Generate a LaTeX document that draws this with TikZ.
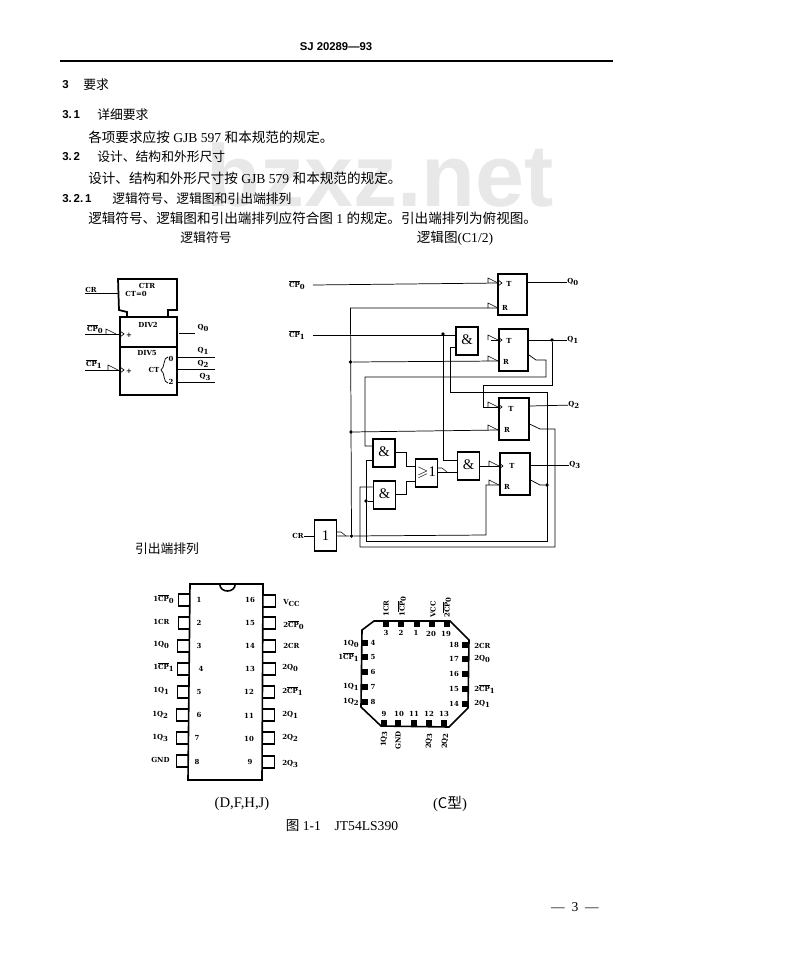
\documentclass[tikz,border=0pt]{standalone}
\usepackage{amssymb}
\usepackage{fontspec}
\setmainfont{Liberation Serif}
\newfontfamily\cjk{Noto Sans CJK SC}
\newfontfamily\secfont{Liberation Sans}
\newfontfamily\labfont{DejaVu Serif}
\newcommand{\idx}[1]{\raisebox{-.35ex}{#1}}
\newcommand{\ovl}[1]{$\overline{\mbox{#1}}$}
\tikzset{
	lab/.style={font=\labfont\bfseries\fontsize{5.2}{7}\selectfont, inner sep=0pt},
	bodytext/.style={font=\fontsize{9.6}{11}\selectfont, anchor=west, inner sep=0pt},
	paratext/.style={font=\fontsize{10.2}{12}\selectfont, anchor=west, inner sep=0pt},
	sectext/.style={font=\secfont\bfseries\fontsize{8.6}{10}\selectfont, anchor=west, inner sep=0pt},
	gatebox/.style={draw, line width=1.3pt, minimum width=16.5pt, minimum height=21pt, inner sep=0pt, font=\fontsize{11}{12}\selectfont},
	ffbox/.style={draw, line width=1.3pt, minimum width=22pt, minimum height=31pt},
	pinbox/.style={draw, line width=1.1pt, minimum width=10pt, minimum height=9pt, inner sep=0pt},
	pad/.style={fill=black, minimum width=4.5pt, minimum height=4.5pt, inner sep=0pt},
	wire/.style={line width=.55pt},
	dotnode/.style={circle, fill=black, minimum size=2.8pt, inner sep=0pt},
	polin/.pic={\draw[line width=.4pt] (-10,0) -- (-10,-5) -- (0,0);},
	polout/.pic={\draw[line width=.4pt] (0,-4) -- (4,-4) -- (9,0);},
	clk/.pic={\draw[line width=.5pt] (0,-3) -- (4,0) -- (0,3);}
}
\begin{document}
\begin{tikzpicture}[x=.75pt, y=-.75pt]
	\useasboundingbox (0,0) rectangle (800,965);
	% watermark
	\node[font=\secfont\bfseries\fontsize{66}{70}\selectfont, text=black!9, inner sep=0pt] (mark) at (380,175){bzxz.net};
	% page text
	\node[font=\secfont\bfseries\fontsize{8.5}{10}\selectfont, inner sep=0pt] (head) at (336,47){SJ 20289—93};
	\coordinate (ruleA) at (60,61);
	\coordinate (ruleB) at (613,61);
	\draw[line width=1pt] (ruleA) -- (ruleB);
	\node[sectext] (s3) at (62,85){3};
	\node[bodytext] (s3t) at (83,85){\cjk 要求};
	\node[sectext] (s31) at (62,115){3.\,1};
	\node[bodytext] (s31t) at (97,115){\cjk 详细要求};
	\node[paratext] (p1) at (88,137){{\cjk 各项要求应按} GJB 597 {\cjk 和本规范的规定。}};
	\node[sectext] (s32) at (62,157){3.\,2};
	\node[bodytext] (s32t) at (97,157){\cjk 设计、结构和外形尺寸};
	\node[paratext] (p2) at (88,178){{\cjk 设计、结构和外形尺寸按} GJB 579 {\cjk 和本规范的规定。}};
	\node[sectext] (s321) at (62,199){3.\,2.\,1};
	\node[bodytext] (s321t) at (112,199){\cjk 逻辑符号、逻辑图和引出端排列};
	\node[paratext] (p3) at (88,218){{\cjk 逻辑符号、逻辑图和引出端排列应符合图} 1 {\cjk 的规定。引出端排列为俯视图。}};
	\node[bodytext, anchor=center] (t1) at (206,238){\cjk 逻辑符号};
	\node[paratext, anchor=center] (t2) at (455,238){{\cjk 逻辑图}(C1/2)};
	\node[bodytext, anchor=center] (t3) at (167,549){\cjk 引出端排列};
	\node[paratext, font=\fontsize{11}{12}\selectfont, anchor=center] (t4) at (242,804){(D,F,H,J)};
	\node[paratext, font=\fontsize{11}{12}\selectfont, anchor=center] (t5) at (450,804){({\cjk C型})};
	\node[paratext, anchor=center] (t6) at (342,826){{\cjk 图} 1-1\quad JT54LS390};
	\node[paratext, anchor=center] (t7) at (575,907){---\ \ 3\ \ ---};

	% logic symbol
	\draw[line width=1.3pt] (127,317) -- (127,312) -- (119,310) -- (118,279) -- (177,279) -- (177,310) -- (168,310) -- (168,317);
	\node[draw, line width=1.3pt, minimum width=43pt, minimum height=22.5pt] (div2) at (148.5,332){};
	\node[draw, line width=1.3pt, minimum width=43pt, minimum height=36pt] (div5) at (148.5,371){};
	\node[lab] (ctr) at (147,286){CTR};
	\node[lab] (ct0) at (136,294){CT=0};
	\node[lab] (divA) at (148,325){DIV2};
	\node[lab] (divB) at (147,353){DIV5};
	\node[lab] (symcr) at (91,290){CR};
	\node[lab] (symcpA) at (95,329){\ovl{CP}\idx{0}};
	\node[lab] (symcpB) at (94,364){\ovl{CP}\idx{1}};
	\node[lab] (symqA) at (203,328){Q\idx{0}};
	\node[lab] (symqB) at (203,351){Q\idx{1}};
	\node[lab] (symqC) at (203,364){Q\idx{2}};
	\node[lab] (symqD) at (205,377){Q\idx{3}};
	\node[lab] (plusA) at (129,335){+};
	\node[lab] (plusB) at (129,371){+};
	\node[lab] (symct) at (154,370){CT};
	\node[lab] (ctlo) at (171,359){0};
	\node[lab] (cthi) at (171,382){2};
	\draw[wire] (85,293) -- (118,293);
	\draw[wire] (85,334) -- (120,334);
	\draw[wire] (85,370) -- (120,370);
	\draw[wire] (179,333) -- (195,333);
	\draw[wire] (177,357) -- (215,357);
	\draw[wire] (177,369) -- (215,369);
	\draw[wire] (177,382) -- (215,382);
	\draw[wire] (168,357) .. controls (163,357) and (165,368) .. (161,370) .. controls (165,372) and (163,383) .. (168,383);
	\pic at (116,334) {polin};
	\pic at (118,370) {polin};
	\pic at (120,334) {clk};
	\pic at (120,370) {clk};

	% logic diagram
	\node[ffbox] (ffA) at (512.5,294.5){};
	\node[ffbox] (ffB) at (513.5,350){};
	\node[ffbox] (ffC) at (514,419){};
	\node[ffbox] (ffD) at (515,474){};
	\node[lab] (ffAt) at (509,284){T};
	\node[lab] (ffAr) at (505,308){R};
	\node[lab] (ffBt) at (509,341){T};
	\node[lab] (ffBr) at (506,362){R};
	\node[lab] (ffCt) at (511,409){T};
	\node[lab] (ffCr) at (507,430){R};
	\node[lab] (ffDt) at (512,466){T};
	\node[lab] (ffDr) at (507,487){R};
	\node[gatebox] (andA) at (467,341){\raisebox{2pt}{\&}};
	\node[gatebox] (andB) at (384,453){\raisebox{2pt}{\&}};
	\node[gatebox] (andC) at (384.5,495){\raisebox{2pt}{\&}};
	\node[gatebox] (orgate) at (426.5,473){$\geqslant$1};
	\node[gatebox] (andD) at (468.5,466){\raisebox{2pt}{\&}};
	\node[gatebox, minimum height=23pt] (invgate) at (325.5,535.5){1};
	\node[lab, anchor=east] (cpA) at (305,285){\ovl{CP}\idx{0}};
	\node[lab, anchor=east] (cpB) at (305,335){\ovl{CP}\idx{1}};
	\node[lab, anchor=east] (crin) at (304,536){CR};
	\node[lab, anchor=west] (qA) at (567,282){Q\idx{0}};
	\node[lab, anchor=west] (qB) at (567,340){Q\idx{1}};
	\node[lab, anchor=west] (qC) at (568,405){Q\idx{2}};
	\node[lab, anchor=west] (qD) at (569,465){Q\idx{3}};
	\node[dotnode] (dotA) at (350.5,362){};
	\node[dotnode] (dotB) at (351,432){};
	\node[dotnode] (dotC) at (351.5,536){};
	\node[dotnode] (dotD) at (443,334){};
	\node[dotnode] (dotE) at (552,340){};
	\node[dotnode] (dotF) at (547,485){};
	\node[dotnode] (dotG) at (366,501){};
	\coordinate (ffAtin) at (498,283);
	\coordinate (ffArin) at (498,308);
	\coordinate (ffBtin) at (498,340);
	\coordinate (ffBrin) at (498,361);
	\coordinate (ffCtin) at (498,407);
	\coordinate (ffCrin) at (498,430);
	\coordinate (ffDtin) at (499,466);
	\coordinate (ffDrin) at (499,485);
	\draw[wire] (cpA.east) ++(8,0) -- (ffAtin);
	\draw[wire] (ffA.east |- qA) -- (qA);
	\draw[wire] (ffArin) -- (350.5,308) -- (dotC);
	\draw[wire] (dotA) -- (ffBrin);
	\draw[wire] (dotB) -- (ffCrin);
	\draw[wire] (cpB.east) ++(8,0) -- (andA.west |- cpB);
	\draw[wire] (dotD) -- (443,460) -- (andD.west |- 443,460);
	\draw[wire] (andA.west |- 0,347) -- (450,347) -- (450,392) -- (547,392) -- (547,541) -- (366,541) -- (366,460) -- (andB.west |- 0,460);
	\draw[wire] (dotG) -- (andC.west |- dotG);
	\draw[wire] (ffBtin) -- (491,340);
	\draw[wire] (ffB.east |- qB) -- (qB);
	\draw[wire] (dotE) -- (552,385) -- (483,385) -- (483,407) -- (ffCtin);
	\draw[wire] (ffB.east |- 0,355) -- (536,360) -- (546,360) -- (546,377) -- (365,377) -- (365,446) -- (andB.west |- 0,446);
	\draw[wire] (ffC.east |- 0,406) -- (qC);
	\draw[wire] (ffC.east |- 0,424) -- (540,429) -- (555,429) -- (555,547) -- (360,547) -- (360,487) -- (andC.west |- 0,487);
	\draw[wire] (ffD.east |- qD) -- (qD);
	\draw[wire] (ffD.east |- 0,480) -- (540,485) -- (dotF);
	\draw[wire] (crin) -- (invgate.west |- crin);
	\draw[wire] (invgate.east |- dotC) -- (dotC) -- (486,535) -- (486,485) -- (ffDrin);
	\draw[wire] (andB.east |- 0,452) -- (406,452) -- (406,466) -- (orgate.west |- 0,466);
	\draw[wire] (andC.east |- 0,494) -- (406,494) -- (406,481) -- (orgate.west |- 0,481);
	\draw[wire] (orgate.east |- 0,472) -- (andD.west |- 0,472);
	\draw[wire] (andD.east |- ffDtin) -- (ffDtin);
	\pic at (ffAtin) {polin};
	\pic at (ffArin) {polin};
	\pic at (ffBtin) {polin};
	\pic at (ffBrin) {polin};
	\pic at (ffCtin) {polin};
	\pic at (ffCrin) {polin};
	\pic at (ffDtin) {polin};
	\pic at (ffDrin) {polin};
	\pic at (ffAtin) {clk};
	\pic at (ffBtin) {clk};
	\pic at (ffCtin) {clk};
	\pic at (ffDtin) {clk};
	\pic at (438,472) {polout};
	\pic at (337,536) {polout};

	% dip package
	\node[pinbox] (pinA) at (185,600){};
	\node[pinbox] (pinB) at (185,623){};
	\node[pinbox] (pinC) at (184,646){};
	\node[pinbox] (pinD) at (184,669){};
	\node[pinbox] (pinE) at (184,692){};
	\node[pinbox] (pinF) at (183,715){};
	\node[pinbox] (pinG) at (183,738){};
	\node[pinbox] (pinH) at (183,761){};
	\node[pinbox] (pinP) at (269,601){};
	\node[pinbox] (pinO) at (269,623){};
	\node[pinbox] (pinN) at (269,646){};
	\node[pinbox] (pinM) at (269,669){};
	\node[pinbox] (pinL) at (268,692){};
	\node[pinbox] (pinK) at (268,715){};
	\node[pinbox] (pinJ) at (268,738){};
	\node[pinbox] (pinI) at (268,762){};
	\draw[line width=1.2pt, fill=white] (190,584) -- (263,584) -- (262,780) -- (188,780) -- cycle;
	\draw[line width=1.2pt] (220,585) arc (180:0:7.5 and 6);
	\node[lab] (numA) at (199,600){1};
	\node[lab] (numB) at (199,623){2};
	\node[lab] (numC) at (199,646){3};
	\node[lab] (numD) at (201,669){4};
	\node[lab] (numE) at (199,692){5};
	\node[lab] (numF) at (199,715){6};
	\node[lab] (numG) at (197,738){7};
	\node[lab] (numH) at (197,762){8};
	\node[lab] (numP) at (250,600){16};
	\node[lab] (numO) at (250,623){15};
	\node[lab] (numN) at (250,646){14};
	\node[lab] (numM) at (250,669){13};
	\node[lab] (numL) at (249,692){12};
	\node[lab] (numK) at (249,716){11};
	\node[lab] (numJ) at (249,739){10};
	\node[lab] (numI) at (250,762){9};
	\node[lab, anchor=west] (labA) at (153,599){1\ovl{CP}\idx{0}};
	\node[lab, anchor=west] (labB) at (153,622){1CR};
	\node[lab, anchor=west] (labC) at (153,645){1Q\idx{0}};
	\node[lab, anchor=west] (labD) at (153,667){1\ovl{CP}\idx{1}};
	\node[lab, anchor=west] (labE) at (153,691){1Q\idx{1}};
	\node[lab, anchor=west] (labF) at (152,715){1Q\idx{2}};
	\node[lab, anchor=west] (labG) at (152,738){1Q\idx{3}};
	\node[lab, anchor=west] (labH) at (151,760){GND};
	\node[lab, anchor=west] (labP) at (283,603){V\idx{CC}};
	\node[lab, anchor=west] (labO) at (283,625){2\ovl{CP}\idx{0}};
	\node[lab, anchor=west] (labN) at (283,646){2CR};
	\node[lab, anchor=west] (labM) at (282,668){2Q\idx{0}};
	\node[lab, anchor=west] (labL) at (282,691){2\ovl{CP}\idx{1}};
	\node[lab, anchor=west] (labK) at (282,715){2Q\idx{1}};
	\node[lab, anchor=west] (labJ) at (282,738){2Q\idx{2}};
	\node[lab, anchor=west] (labI) at (282,764){2Q\idx{3}};

	% chip carrier
	\draw[line width=1.2pt] (374,621) -- (450,621) -- (469,640) -- (468,708) -- (449,727) -- (381,726) -- (361,707) -- (362,630) -- cycle;
	\node[pad] (padC) at (386,624){};
	\node[pad] (padB) at (401,624){};
	\node[pad] (padA) at (417,624){};
	\node[pad] (padT) at (432,624){};
	\node[pad] (padS) at (447,624){};
	\node[pad] (padD) at (365,643){};
	\node[pad] (padE) at (365,657){};
	\node[pad] (padF) at (365,672){};
	\node[pad] (padG) at (365,687){};
	\node[pad] (padH) at (365,702){};
	\node[pad] (padR) at (465,645){};
	\node[pad] (padQ) at (465,659){};
	\node[pad] (padP) at (465,674){};
	\node[pad] (padO) at (465,689){};
	\node[pad] (padN) at (465,704){};
	\node[pad] (padI) at (384,723){};
	\node[pad] (padJ) at (398,723){};
	\node[pad] (padK) at (414,723){};
	\node[pad] (padL) at (429,723){};
	\node[pad] (padM) at (444,723){};
	\node[lab] (lccC) at (386,633){3};
	\node[lab] (lccB) at (401,633){2};
	\node[lab] (lccA) at (416,633){1};
	\node[lab] (lccT) at (431,634){20};
	\node[lab] (lccS) at (446,634){19};
	\node[lab] (lccD) at (373,643){4};
	\node[lab] (lccE) at (373,657){5};
	\node[lab] (lccF) at (373,672){6};
	\node[lab] (lccG) at (373,687){7};
	\node[lab] (lccH) at (373,702){8};
	\node[lab] (lccR) at (454,645){18};
	\node[lab] (lccQ) at (454,659){17};
	\node[lab] (lccP) at (454,674){16};
	\node[lab] (lccO) at (454,689){15};
	\node[lab] (lccN) at (454,704){14};
	\node[lab] (lccI) at (384,714){9};
	\node[lab] (lccJ) at (399,714){10};
	\node[lab] (lccK) at (414,714){11};
	\node[lab] (lccL) at (429,714){12};
	\node[lab] (lccM) at (444,714){13};
	\node[lab, rotate=90, anchor=west] (topC) at (386,617){1CR};
	\node[lab, rotate=90, anchor=west] (topB) at (402,617){1\ovl{CP}\idx{0}};
	\node[lab, rotate=90, anchor=west] (topT) at (433,618){VCC};
	\node[lab, rotate=90, anchor=west] (topS) at (447,618){2\ovl{CP}\idx{0}};
	\node[lab, rotate=90, anchor=east] (botI) at (384,731){1Q\idx{3}};
	\node[lab, rotate=90, anchor=east] (botJ) at (398,731){GND};
	\node[lab, rotate=90, anchor=east] (botL) at (429,733){2Q\idx{3}};
	\node[lab, rotate=90, anchor=east] (botM) at (445,733){2Q\idx{2}};
	\node[lab, anchor=east] (sideD) at (359,644){1Q\idx{0}};
	\node[lab, anchor=east] (sideE) at (359,657){1\ovl{CP}\idx{1}};
	\node[lab, anchor=east] (sideG) at (359,687){1Q\idx{1}};
	\node[lab, anchor=east] (sideH) at (359,702){1Q\idx{2}};
	\node[lab, anchor=west] (sideR) at (474,646){2CR};
	\node[lab, anchor=west] (sideQ) at (474,659){2Q\idx{0}};
	\node[lab, anchor=west] (sideO) at (474,689){2\ovl{CP}\idx{1}};
	\node[lab, anchor=west] (sideN) at (474,704){2Q\idx{1}};
\end{tikzpicture}
\end{document}
